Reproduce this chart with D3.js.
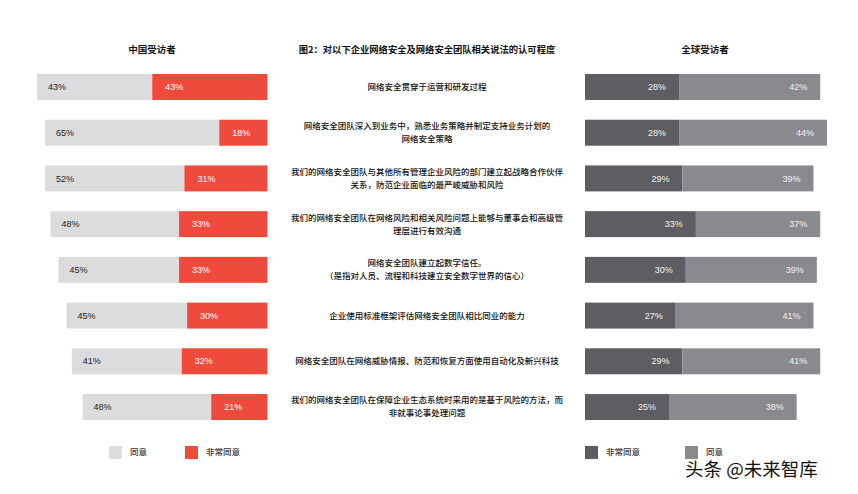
<!DOCTYPE html>
<html><head><meta charset="utf-8">
<script src="https://cdn.jsdelivr.net/npm/d3@7"></script>
<style>
html,body{margin:0;padding:0;background:#fff;}
text{font-family:"Noto Sans CJK SC","Noto Sans",sans-serif;}
.num{font-family:"Liberation Sans",Arial,sans-serif;}
</style></head>
<body><svg id="c" width="858" height="494"></svg>
<script>
const statements = [
  ["网络安全贯穿于运营和研发过程"],
  ["网络安全团队深入到业务中，熟悉业务策略并制定支持业务计划的","网络安全策略"],
  ["我们的网络安全团队与其他所有管理企业风险的部门建立起战略合作伙伴","关系，防范企业面临的最严峻威胁和风险"],
  ["我们的网络安全团队在网络风险和相关风险问题上能够与董事会和高级管","理层进行有效沟通"],
  ["网络安全团队建立起数字信任。","（是指对人员、流程和科技建立安全数字世界的信心）"],
  ["企业使用标准框架评估网络安全团队相比同业的能力"],
  ["网络安全团队在网络威胁情报、防范和恢复方面使用自动化及新兴科技"],
  ["我们的网络安全团队在保障企业生态系统时采用的是基于风险的方法，而","非就事论事处理问题"]
];
const chinaAgree = [43,65,52,48,45,45,41,48];
const chinaStrong = [43,18,31,33,33,30,32,21];
const globalStrong = [28,28,29,33,30,27,29,25];
const globalAgree = [42,44,39,37,39,41,41,38];
const title = "图2：对以下企业网络安全及网络安全团队相关说法的认可程度";
const leftTitle = "中国受访者";
const rightTitle = "全球受访者";
const leftLegend = ["同意","非常同意"];
const rightLegend = ["非常同意","同意"];

const C = {agree:"#dcdcde", strong:"#ef4b3d", gDark:"#5e5e62", gLight:"#8a8a8e"};
const svg = d3.select("#c");
const idx = d3.range(statements.length);
const y = d3.scaleBand().domain(idx).range([74,420]).paddingInner(0.432).paddingOuter(0);
const bw = y.bandwidth();

// left chart: right aligned at leftEnd
const leftEnd = 267.5;
const xL = d3.scaleLinear().domain([0,100]).range([0,268]);
const gl = svg.append("g");
idx.forEach(i=>{
  const total = chinaAgree[i]+chinaStrong[i];
  const x0 = leftEnd - xL(total);
  const xm = x0 + xL(chinaAgree[i]);
  gl.append("rect").attr("x",x0).attr("y",y(i)).attr("width",xL(chinaAgree[i])).attr("height",bw).attr("fill",C.agree);
  gl.append("rect").attr("x",xm).attr("y",y(i)).attr("width",xL(chinaStrong[i])).attr("height",bw).attr("fill",C.strong);
  gl.append("text").attr("class","num").attr("x",x0+11).attr("y",y(i)+bw/2).attr("dy","0.35em")
    .attr("font-size",9).attr("fill","#222").text(chinaAgree[i]+"%");
  gl.append("text").attr("class","num").attr("x",xm+13).attr("y",y(i)+bw/2).attr("dy","0.35em")
    .attr("font-size",9).attr("fill","#fff").text(chinaStrong[i]+"%");
});

// right chart
const rightStart = 585;
const xR = d3.scaleLinear().domain([0,100]).range([0,336]);
const gr = svg.append("g");
idx.forEach(i=>{
  const xm = rightStart + xR(globalStrong[i]);
  const xe = xm + xR(globalAgree[i]);
  gr.append("rect").attr("x",rightStart).attr("y",y(i)).attr("width",xR(globalStrong[i])).attr("height",bw).attr("fill",C.gDark);
  gr.append("rect").attr("x",xm).attr("y",y(i)).attr("width",xR(globalAgree[i])).attr("height",bw).attr("fill",C.gLight);
  gr.append("text").attr("class","num").attr("x",xm-13).attr("y",y(i)+bw/2).attr("dy","0.35em").attr("text-anchor","end")
    .attr("font-size",9).attr("fill","#f2f2f2").text(globalStrong[i]+"%");
  gr.append("text").attr("class","num").attr("x",xe-13).attr("y",y(i)+bw/2).attr("dy","0.35em").attr("text-anchor","end")
    .attr("font-size",9).attr("fill","#f2f2f2").text(globalAgree[i]+"%");
});

// middle statements
const gm = svg.append("g");
idx.forEach(i=>{
  const lines = statements[i];
  const cy = y(i)+bw/2;
  const lh = 13;
  lines.forEach((t,k)=>{
    gm.append("text").attr("x",427).attr("y",cy + (k-(lines.length-1)/2)*lh).attr("dy","0.35em")
      .attr("text-anchor","middle").attr("font-size",8.5).attr("font-weight",500).attr("fill","#111").text(t);
  });
});

// titles
svg.append("text").attr("x",152).attr("y",50).attr("dy","0.35em").attr("text-anchor","middle")
  .attr("font-size",9.5).attr("font-weight","bold").attr("fill","#111").text(leftTitle);
svg.append("text").attr("x",427).attr("y",50).attr("dy","0.35em").attr("text-anchor","middle")
  .attr("font-size",9.3).attr("font-weight","bold").attr("fill","#111").text(title);
svg.append("text").attr("x",705).attr("y",50).attr("dy","0.35em").attr("text-anchor","middle")
  .attr("font-size",9.5).attr("font-weight","bold").attr("fill","#111").text(rightTitle);

// legends
function legend(items, colors, xs){
  items.forEach((t,k)=>{
    svg.append("rect").attr("x",xs[k]).attr("y",446).attr("width",13).attr("height",13).attr("fill",colors[k]);
    svg.append("text").attr("x",xs[k]+21).attr("y",452).attr("dy","0.35em").attr("font-size",8.5)
      .attr("font-weight",500).attr("fill","#333").text(t);
  });
}
legend(leftLegend,[C.agree,C.strong],[109,185]);
legend(rightLegend,[C.gDark,C.gLight],[585,685]);

// watermark
svg.append("text").attr("x",685).attr("y",469.5).attr("dy","0.35em").attr("font-size",18.5)
  .attr("fill","#111").attr("stroke","#fff").attr("stroke-width",2.5).attr("paint-order","stroke")
  .text("头条 @未来智库");
</script></body></html>
